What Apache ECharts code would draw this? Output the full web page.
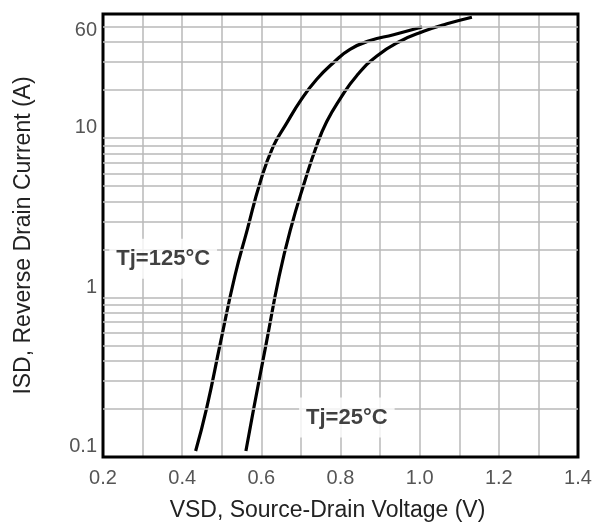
<!DOCTYPE html>
<html>
<head>
<meta charset="utf-8">
<script src="https://cdn.jsdelivr.net/npm/echarts@6/dist/echarts.min.js"></script>
<style>
html,body{margin:0;padding:0;background:#fff;}
#chart{width:595px;height:527px;}
</style>
</head>
<body>
<div id="chart"></div>
<script>
// ---- data ----
const v125 = [0.434, 0.462, 0.497, 0.533, 0.564, 0.598, 0.630, 0.661, 0.702, 0.740, 0.782, 0.824, 0.875, 0.934, 1.006];
const i125 = [0.109, 0.203, 0.525, 1.36, 2.64, 5.38, 8.86, 12.05, 17.6, 23.4, 29.7, 36.0, 40.9, 44.5, 49.7];
const v25  = [0.561, 0.581, 0.613, 0.645, 0.673, 0.710, 0.739, 0.765, 0.799, 0.841, 0.892, 0.951, 1.010, 1.069, 1.132];
const i25  = [0.109, 0.203, 0.525, 1.36, 2.64, 5.38, 8.86, 12.65, 17.6, 24.6, 32.7, 40.5, 46.7, 52.1, 57.3];
const yTickValues = [0.1, 1, 10, 60];
const yTickLabels = ['0.1', '1', '10', '60'];
const yGridValues = [0.2, 0.3, 0.4, 0.5, 0.6, 0.7, 0.8, 0.9, 1, 2, 3, 4, 5, 6, 7, 8, 9, 10, 20, 30, 40, 50];
const labelTexts = ['Tj=125°C', 'Tj=25°C'];
const labelV = [0.352, 0.816];
const labelI = [1.75, 0.177];
const xName = 'VSD, Source-Drain Voltage (V)';
const yName = 'ISD, Reverse Drain Current (A)';

const pairs = (xs, ys) => xs.map((x, k) => [x, ys[k]]);
const gridColor = '#b9b9b9';

const chart = echarts.init(document.getElementById('chart'), null, {renderer: 'canvas'});
chart.setOption({
  animation: false,
  backgroundColor: '#fff',
  grid: {left: 103, right: 17, top: 14, bottom: 64, show: true, borderColor: '#000', borderWidth: 3, backgroundColor: 'transparent', z: 5},
  xAxis: {
    type: 'value', min: 0.2, max: 1.4, interval: 0.1,
    axisLine: {show: false}, axisTick: {show: false},
    splitLine: {show: true, lineStyle: {color: gridColor, width: 1.5}},
    axisLabel: {
      margin: 11, color: '#555', fontFamily: 'Liberation Sans', fontSize: 20,
      formatter: v => (Math.round(v * 10) % 2 === 0 ? v.toFixed(1) : '')
    },
    name: xName, nameLocation: 'middle', nameGap: 42,
    nameTextStyle: {color: '#222', fontFamily: 'Liberation Sans', fontSize: 23, padding: [0, 26, 0, 0]}
  },
  yAxis: {
    type: 'log', logBase: 10, min: 0.1, max: 60,
    axisLine: {show: false}, axisTick: {show: false},
    splitLine: {show: false},
    axisLabel: {
      customValues: yTickValues,
      margin: 6, color: '#555', fontFamily: 'Liberation Sans', fontSize: 20,
      formatter: v => {
        const k = yTickValues.findIndex(t => Math.abs(t - v) / t < 1e-6);
        const s = k >= 0 ? yTickLabels[k] : '';
        return k === 3 ? '{dn|' + s + '}' : '{up|' + s + '}';
      },
      rich: {
        up: {padding: [0, 0, 21, 0], color: '#555', fontFamily: 'Liberation Sans', fontSize: 20},
        dn: {padding: [32, 0, 0, 0], color: '#555', fontFamily: 'Liberation Sans', fontSize: 20}
      }
    },
    name: yName, nameLocation: 'middle', nameGap: 68,
    nameTextStyle: {color: '#222', fontFamily: 'Liberation Sans', fontSize: 23}
  },
  series: [
    {
      type: 'line', name: 'grid', data: [], z: 1, silent: true,
      markLine: {
        silent: true, symbol: 'none', label: {show: false},
        lineStyle: {color: gridColor, width: 1.5, type: 'solid'},
        data: yGridValues.map(v => ({yAxis: v}))
      }
    },
    {
      type: 'line', name: 'Tj=125°C', data: pairs(v125, i125), smooth: 0.5,
      symbol: 'none', lineStyle: {color: '#000', width: 3.2}, z: 3
    },
    {
      type: 'line', name: 'Tj=25°C', data: pairs(v25, i25), smooth: 0.5,
      symbol: 'none', lineStyle: {color: '#000', width: 3.2}, z: 3
    },
    {
      type: 'scatter', name: 'labels', symbolSize: 0, z: 6, silent: true,
      data: labelTexts.map((t, k) => ({value: [labelV[k], labelI[k]], name: t})),
      label: {
        show: true, position: 'inside', formatter: p => p.name,
        color: '#111', fontFamily: 'Liberation Sans', fontWeight: 'bold', fontSize: 22,
        backgroundColor: '#fff', padding: [9, 7, 9, 7]
      }
    }
  ]
});
</script>
</body>
</html>
